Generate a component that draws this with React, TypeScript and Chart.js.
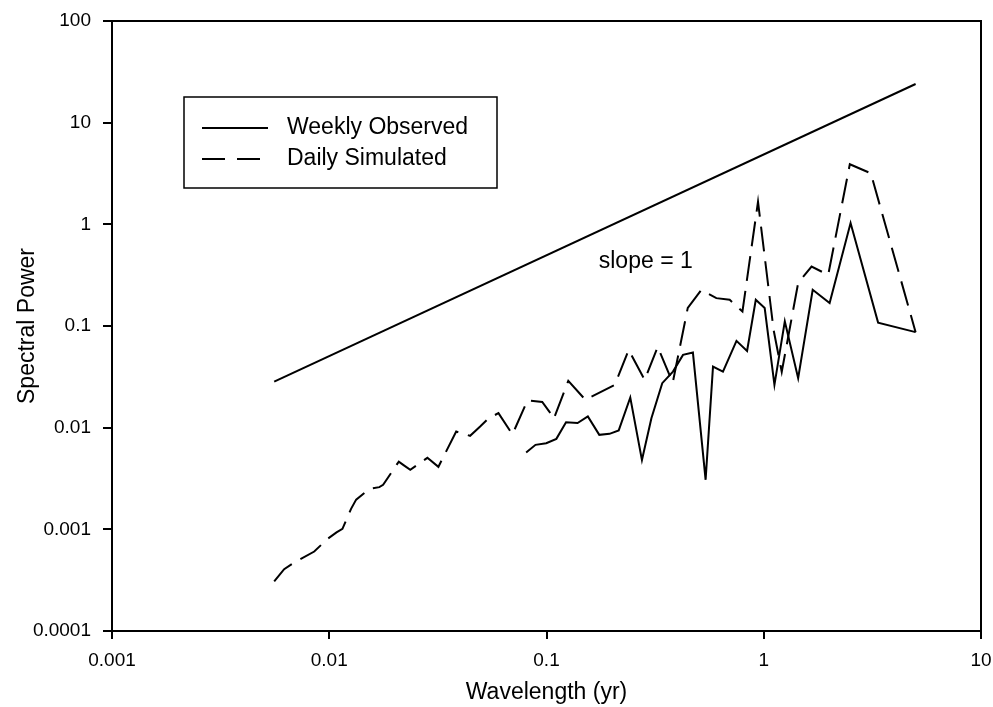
import React, { useEffect, useRef } from "react";
import { Chart, registerables } from "chart.js";

Chart.register(...registerables);

const FONT = "'Liberation Sans', Arial, Helvetica, sans-serif";

// Axis ticks
const xTickValues = [0.001, 0.01, 0.1, 1, 10];
const xTickLabels = ["0.001", "0.01", "0.1", "1", "10"];
const yTickValues = [0.0001, 0.001, 0.01, 0.1, 1, 10, 100];
const yTickLabels = ["0.0001", "0.001", "0.01", "0.1", "1", "10", "100"];

// Reference line (slope = 1)
const slopeX = [0.00558, 5.0];
const slopeY = [0.0284, 24.0];

// Weekly Observed (solid)
const weeklyX = [
  0.0806, 0.089, 0.0997, 0.111, 0.123, 0.139, 0.155, 0.175, 0.195, 0.215,
  0.243, 0.275, 0.304, 0.341, 0.382, 0.425, 0.472, 0.54, 0.584, 0.649,
  0.749, 0.838, 0.919, 1.01, 1.12, 1.25, 1.44, 1.68, 2.01, 2.51, 3.36, 5.0,
];
const weeklyY = [
  0.00569, 0.00678, 0.00704, 0.00776, 0.0113, 0.0111, 0.0129, 0.0085, 0.0087, 0.0094,
  0.0198, 0.0048, 0.0124, 0.0274, 0.0356, 0.052, 0.0548, 0.00307, 0.0399, 0.0356,
  0.0714, 0.0569, 0.181, 0.15, 0.0264, 0.111, 0.0307, 0.227, 0.168, 1.03, 0.108, 0.087,
];

// Daily Simulated (dashed)
const dailyX = [
  0.00558, 0.0062, 0.00697, 0.00853, 0.00982, 0.0108, 0.0115, 0.0126, 0.0133, 0.0153,
  0.017, 0.0177, 0.0209, 0.0219, 0.0236, 0.0283, 0.0318, 0.0384, 0.0445, 0.0495,
  0.054, 0.0601, 0.0697, 0.0817, 0.0956, 0.103, 0.108, 0.126, 0.151, 0.206,
  0.239, 0.283, 0.325, 0.381, 0.447, 0.516, 0.605, 0.697, 0.798, 0.941,
  1.11, 1.21, 1.44, 1.66, 1.98, 2.49, 3.11, 5.0,
];
const dailyY = [
  0.000307, 0.000406, 0.000479, 0.000605, 0.000806, 0.000934, 0.00101, 0.00159, 0.00196, 0.0025,
  0.0026, 0.00274, 0.00464, 0.00431, 0.00385, 0.00505, 0.00412, 0.00916, 0.00831, 0.01025,
  0.0123, 0.0139, 0.00859, 0.0185, 0.0179, 0.0144, 0.0122, 0.0289, 0.0188, 0.0263,
  0.0582, 0.0295, 0.0623, 0.0276, 0.151, 0.227, 0.188, 0.181, 0.139, 1.67,
  0.0916, 0.0354, 0.265, 0.384, 0.318, 3.9, 3.18, 0.087,
];

const seriesLabels = ["slope = 1", "Weekly Observed", "Daily Simulated"];
const slopeLabelX = 0.174;
const slopeLabelY = 0.373;

const toPoints = (xs: number[], ys: number[]) => xs.map((x, i) => ({ x, y: ys[i] }));

const framePlugin = {
  id: "frame",
  afterDraw(chart: any) {
    const { ctx, chartArea: a } = chart;
    ctx.save();
    ctx.strokeStyle = "#000";
    ctx.lineWidth = 2;
    ctx.strokeRect(a.left, a.top, a.right - a.left, a.bottom - a.top);
    ctx.restore();
  },
};

const annotationPlugin = {
  id: "slopeText",
  afterDatasetsDraw(chart: any) {
    const { ctx, scales } = chart;
    const x = scales.x.getPixelForValue(slopeLabelX);
    const y = scales.y.getPixelForValue(slopeLabelY);
    ctx.save();
    ctx.fillStyle = "#000";
    ctx.font = `23px ${FONT}`;
    ctx.textAlign = "left";
    ctx.textBaseline = "alphabetic";
    ctx.fillText(seriesLabels[0], x, y);
    ctx.restore();
  },
};

const legendPlugin = {
  id: "boxLegend",
  afterDraw(chart: any) {
    const { ctx } = chart;
    const bx = 184, by = 97, bw = 313, bh = 91;
    ctx.save();
    ctx.fillStyle = "#fff";
    ctx.fillRect(bx, by, bw, bh);
    ctx.strokeStyle = "#000";
    ctx.lineWidth = 1.5;
    ctx.strokeRect(bx, by, bw, bh);
    const rows = [
      { ds: chart.data.datasets[1], y: 128, x1: 202, x2: 268, dash: [] as number[] },
      { ds: chart.data.datasets[2], y: 159, x1: 202, x2: 260, dash: [23, 12] },
    ];
    rows.forEach((r) => {
      ctx.beginPath();
      ctx.lineWidth = 2;
      ctx.setLineDash(r.dash);
      ctx.moveTo(r.x1, r.y);
      ctx.lineTo(r.x2, r.y);
      ctx.stroke();
      ctx.setLineDash([]);
      ctx.fillStyle = "#000";
      ctx.font = `23px ${FONT}`;
      ctx.textAlign = "left";
      ctx.textBaseline = "middle";
      ctx.fillText(r.ds.label, 287, r.y);
    });
    ctx.restore();
  },
};

export default function App() {
  const canvasRef = useRef<HTMLCanvasElement | null>(null);

  useEffect(() => {
    if (!canvasRef.current) return;
    const axisCommon = {
      grid: {
        drawOnChartArea: false,
        drawTicks: true,
        color: "#000",
        lineWidth: 2,
      },
      border: { display: true, color: "#000", width: 2 },
    };
    const chart = new Chart(canvasRef.current, {
      type: "line",
      data: {
        datasets: [
          {
            label: seriesLabels[0],
            data: toPoints(slopeX, slopeY),
            borderColor: "#000",
            borderWidth: 2,
            pointRadius: 0,
            tension: 0,
            fill: false,
          },
          {
            label: seriesLabels[1],
            data: toPoints(weeklyX, weeklyY),
            borderColor: "#000",
            borderWidth: 2,
            pointRadius: 0,
            tension: 0,
            fill: false,
          },
          {
            label: seriesLabels[2],
            data: toPoints(dailyX, dailyY),
            borderColor: "#000",
            borderWidth: 2,
            borderDash: [25, 10],
            pointRadius: 0,
            tension: 0,
            fill: false,
          },
        ],
      },
      options: {
        animation: false,
        responsive: false,
        devicePixelRatio: 1,
        layout: { padding: { left: 0, top: 21, right: 12, bottom: 0 } },
        plugins: {
          legend: { display: false },
          tooltip: { enabled: false },
        },
        scales: {
          x: {
            type: "logarithmic",
            position: "bottom",
            min: 0.001,
            max: 10,
            ...axisCommon,
            grid: { ...axisCommon.grid, tickLength: 8 },
            afterBuildTicks: (scale: any) => {
              scale.ticks = xTickValues.map((v) => ({ value: v }));
            },
            afterFit: (scale: any) => {
              scale.height = 76;
              scale.paddingLeft = 0;
              scale.paddingRight = 0;
            },
            ticks: {
              autoSkip: false,
              maxRotation: 0,
              padding: 10,
              color: "#000",
              font: { family: FONT, size: 19 },
              callback: (_v: any, i: number) => xTickLabels[i],
            },
            title: {
              display: true,
              text: "Wavelength (yr)",
              color: "#000",
              font: { family: FONT, size: 23 },
              padding: { top: 0, bottom: 1 },
            },
          },
          y: {
            type: "logarithmic",
            position: "left",
            min: 0.0001,
            max: 100,
            ...axisCommon,
            grid: { ...axisCommon.grid, tickLength: 9 },
            afterBuildTicks: (scale: any) => {
              scale.ticks = yTickValues.map((v) => ({ value: v }));
            },
            afterFit: (scale: any) => {
              scale.width = 112;
              scale.paddingTop = 0;
              scale.paddingBottom = 0;
            },
            ticks: {
              autoSkip: false,
              padding: 12,
              color: "#000",
              font: { family: FONT, size: 19 },
              callback: (_v: any, i: number) => yTickLabels[i],
            },
            title: {
              display: true,
              text: "Spectral Power",
              color: "#000",
              font: { family: FONT, size: 23 },
              padding: { top: 14, bottom: 0 },
            },
          },
        },
      },
      plugins: [framePlugin, annotationPlugin, legendPlugin],
    } as any);
    return () => chart.destroy();
  }, []);

  return (
    <div style={{ position: "absolute", left: 0, top: 0, width: 993, height: 707, background: "#fff" }}>
      <canvas ref={canvasRef} width={993} height={707} style={{ display: "block" }} />
    </div>
  );
}
